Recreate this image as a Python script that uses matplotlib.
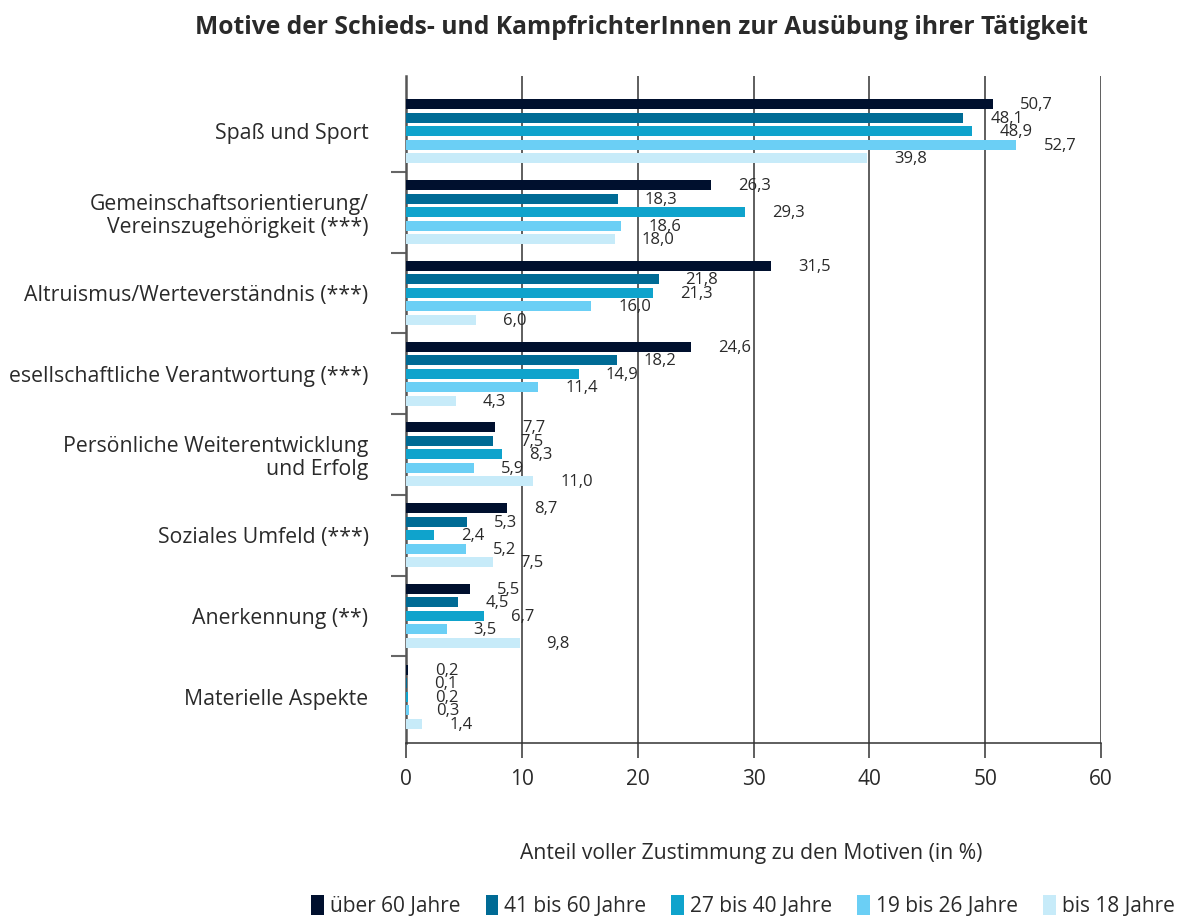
import matplotlib
matplotlib.use("Agg")
import matplotlib.pyplot as plt
import numpy as np

plt.rcParams['font.family'] = ['Open Sans', 'DejaVu Sans']

categories = [
    "Spaß und Sport",
    "Gemeinschaftsorientierung/\nVereinszugehörigkeit (***)",
    "Altruismus/Werteverständnis (***)",
    "esellschaftliche Verantwortung (***)",
    "Persönliche Weiterentwicklung\nund Erfolg",
    "Soziales Umfeld (***)",
    "Anerkennung (**)",
    "Materielle Aspekte",
]
series_names = ["über 60 Jahre", "41 bis 60 Jahre", "27 bis 40 Jahre",
                "19 bis 26 Jahre", "bis 18 Jahre"]
over_60 = [50.7, 26.3, 31.5, 24.6, 7.7, 8.7, 5.5, 0.2]
age_41_60 = [48.1, 18.3, 21.8, 18.2, 7.5, 5.3, 4.5, 0.1]
age_27_40 = [48.9, 29.3, 21.3, 14.9, 8.3, 2.4, 6.7, 0.2]
age_19_26 = [52.7, 18.6, 16.0, 11.4, 5.9, 5.2, 3.5, 0.3]
under_18 = [39.8, 18.0, 6.0, 4.3, 11.0, 7.5, 9.8, 1.4]
series = [over_60, age_41_60, age_27_40, age_19_26, under_18]
colors = ['#00102e', '#006b95', '#0fa3cc', '#6bcff5', '#c7ebf9']
x_ticks = [0, 10, 20, 30, 40, 50, 60]

W, H = 1185, 918
fig = plt.figure(figsize=(W / 100, H / 100), dpi=100)
ax = fig.add_axes([406 / W, 1 - 743 / H, (1101 - 406) / W, (743 - 76) / H])

text_color = '#2a2a2a'
pitch = 13.5 / 80.7
bar_h = 10 / 80.7
y = np.arange(len(categories))
for k, (vals, col, name) in enumerate(zip(series, colors, series_names)):
    ypos = y + (k - 2) * pitch
    ax.barh(ypos, vals, height=bar_h, color=col, label=name, zorder=3)
    for v, yp in zip(vals, ypos):
        ax.annotate(f"{v:.1f}".replace('.', ','), xy=(v, yp), xytext=(27, -1),
                    textcoords='offset pixels', ha='left', va='center',
                    fontsize=12, color=text_color, zorder=4)

ax.set_xlim(0, 60)
ax.set_ylim(7.574, -0.686)
ax.set_xticks(x_ticks)
ax.set_xticklabels([str(t) for t in x_ticks], fontsize=15, color=text_color)
ax.tick_params(axis='x', direction='out', length=11, width=1.1, color='#333333', pad=8)

ax.set_yticks(y)
ax.set_yticklabels(categories, fontsize=15.3, color=text_color, ha='right',
                   multialignment='right', linespacing=1.15)
ax.tick_params(axis='y', which='major', length=0, pad=27)
ax.set_yticks(np.arange(len(categories) - 1) + 0.5, minor=True)
ax.tick_params(axis='y', which='minor', length=11, width=1.5, color='#666666')

for t in x_ticks[1:]:
    ax.axvline(t, color='#333333', lw=1.1, zorder=1)

for s in ['top', 'right']:
    ax.spines[s].set_visible(False)
ax.spines['left'].set_color('#555555')
ax.spines['left'].set_linewidth(1.8)
ax.spines['bottom'].set_color('#333333')
ax.spines['bottom'].set_linewidth(1.1)

fig.text(641 / W, 1 - 27 / H, "Motive der Schieds- und KampfrichterInnen zur Ausübung ihrer Tätigkeit",
         ha='center', va='center', fontsize=17.7, fontweight='bold', color=text_color)
fig.text(751 / W, 1 - 853 / H, "Anteil voller Zustimmung zu den Motiven (in %)",
         ha='center', va='center', fontsize=15.2, color=text_color)

leg = fig.legend(loc='center', bbox_to_anchor=(743 / W, 1 - 906 / H), ncol=5,
                 frameon=False, fontsize=15, handlelength=0.6, handleheight=1.1,
                 handletextpad=0.3, columnspacing=1.2, borderaxespad=0)
for t in leg.get_texts():
    t.set_color(text_color)

fig.savefig("out.png", dpi=100)
